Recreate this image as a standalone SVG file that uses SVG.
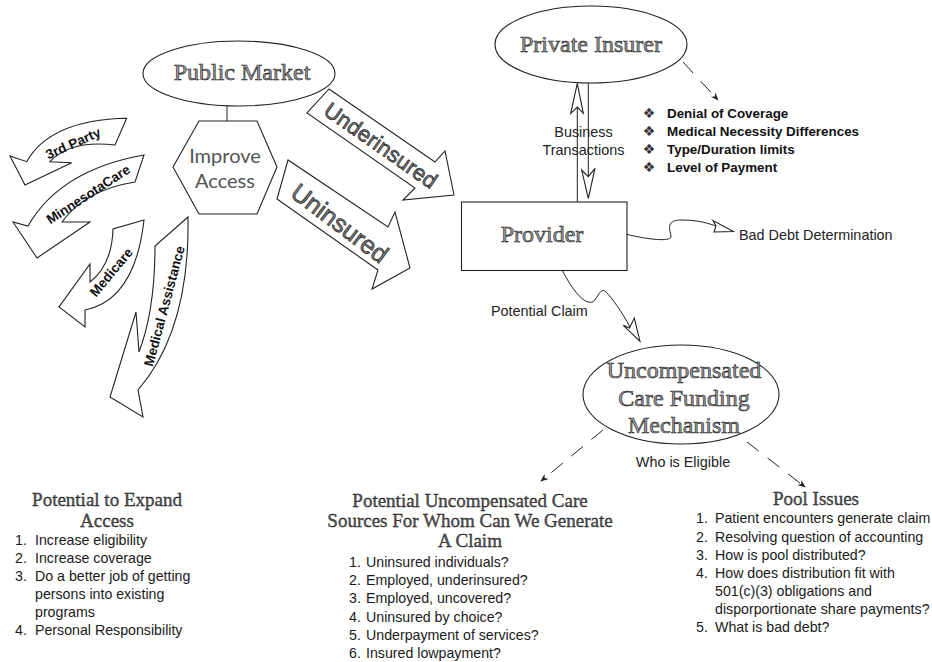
<svg xmlns="http://www.w3.org/2000/svg" width="932" height="662" viewBox="0 0 932 662">
<defs>
<style>
.shape{fill:#fff;stroke:#222;stroke-width:1.1;stroke-linejoin:miter}
.line{fill:none;stroke:#222;stroke-width:1}
.dash{fill:none;stroke:#222;stroke-width:1;stroke-dasharray:15 11}
.title{font-family:"Liberation Serif","DejaVu Serif",serif;font-size:24px;fill:#9a9a9a;stroke:#1a1a1a;stroke-width:0.6;text-anchor:middle}
.head{font-family:"Liberation Serif","DejaVu Serif",serif;font-size:19px;fill:#555;stroke:#111;stroke-width:0.35;text-anchor:middle}
.big{font-family:"Liberation Sans",Arial,sans-serif;fill:#777;stroke:#111;stroke-width:0.6;text-anchor:middle}
.arc{font-family:"Liberation Sans",Arial,sans-serif;font-size:13.5px;font-weight:bold;fill:#111;text-anchor:middle}
.lbl{font-family:"Liberation Sans",Arial,sans-serif;font-size:14.4px;fill:#222}
.bul{font-family:"Liberation Sans",Arial,sans-serif;font-size:13.4px;font-weight:bold;fill:#111}
.list{font-family:"Liberation Sans",Arial,sans-serif;font-size:14.2px;fill:#1a1a1a}
.star{font-family:"DejaVu Sans",sans-serif;font-size:14px;fill:#333;text-anchor:middle}
</style>
<marker id="dh" viewBox="0 0 10 10" refX="9" refY="5" markerWidth="8" markerHeight="8" orient="auto" markerUnits="userSpaceOnUse">
<path d="M0,1 L10,5 L0,9 L3,5 Z" fill="#222"/>
</marker>
</defs>
<rect width="932" height="662" fill="#fff"/>

<g id="connectors">
<line class="line" x1="227" y1="106" x2="227" y2="121"/>
<line class="line" x1="577.3" y1="107" x2="577.3" y2="202"/>
<path class="shape" d="M577.3,83.3 L583.3,113.3 L577.3,107 L570.7,113.3 Z"/>
<line class="line" x1="588.3" y1="83" x2="588.3" y2="177"/>
<path class="shape" d="M588.3,198.3 L581.7,170 L588.3,176.7 L595,168.3 Z"/>
<path class="line" d="M626.7,234.3 C650,240 672,242 671,236 C669,228 667,220 681,220 C695,220 705,222 716,226"/>
<path class="shape" d="M733.3,231.5 L713,220.5 L716,226 L714,232 Z"/>
<path class="line" d="M562,270 C575,295 588,308 595,300 C600,292 602,288 606,292 C612,298 622,312 630,327"/>
<path class="shape" d="M640,341.3 L623.3,325.3 L629.5,328 L634.3,318 Z"/>
<line class="dash" x1="683" y1="62" x2="718" y2="100" marker-end="url(#dh)"/>
<line class="dash" x1="603" y1="430" x2="541" y2="481" marker-end="url(#dh)"/>
<line class="dash" x1="747" y1="442" x2="805" y2="487" marker-end="url(#dh)"/>
</g>

<g id="public-market">
<ellipse class="shape" cx="239" cy="73.5" rx="96" ry="32.5"/>
<text class="title" x="242" y="80">Public Market</text>
</g>

<g id="improve-access">
<polygon class="shape" points="199,121 257,121 277,167 257,214 199,214 173,167"/>
<text x="225" y="163" font-family="Lato,'Liberation Sans',sans-serif" font-size="20" fill="#555" text-anchor="middle">Improve</text>
<text x="225" y="188" font-family="Lato,'Liberation Sans',sans-serif" font-size="20" fill="#555" text-anchor="middle">Access</text>
</g>

<g id="underinsured">
<polygon class="shape" points="329,89 307,113 415,188 403,200 454,195 445,151 435,162"/>
<text class="big" font-size="22" transform="translate(381,145) rotate(35)" y="8">Underinsured</text>
</g>

<g id="uninsured">
<polygon class="shape" points="288,160 277,199 378,270 372,289 410,268 395,212 388,227"/>
<text class="big" font-size="25" transform="translate(340,223) rotate(37)" y="9">Uninsured</text>
</g>

<g id="third-party">
<path class="shape" d="M126.7,118.3 L115,145 Q70,140 50,161.7 L71.7,162.7 L25,185 L10,156 L26.7,161.7 Q50,120 126.7,118.3 Z"/>
<text class="arc" transform="translate(73,143) rotate(-24)" y="5">3rd Party</text>
</g>

<g id="minnesotacare">
<path class="shape" d="M144,155 L135,182 Q85,190 62,222 L90,222 L37,258 L13,222 L28,226 Q60,170 144,155 Z"/>
<text class="arc" transform="translate(88,194) rotate(-33)" y="5">MinnesotaCare</text>
</g>

<g id="medicare">
<path class="shape" d="M144,220 L113,229 Q112,265 90,282 L90,264 L59,307 L85,327 L85,310 Q135,300 144,220 Z"/>
<text class="arc" transform="translate(111,272) rotate(-50)" y="5">Medicare</text>
</g>

<g id="medical-assistance">
<path class="shape" d="M188,217 L155,246 Q155,310 139,352 L136,312 L110,397 L143,417 L138,390 Q190,330 188,217 Z"/>
<text class="arc" transform="translate(164,306) rotate(-75)" y="5">Medical Assistance</text>
</g>

<g id="private-insurer">
<ellipse class="shape" cx="591" cy="44.5" rx="96" ry="38.5"/>
<text class="title" x="591" y="52">Private Insurer</text>
</g>

<g id="business-label">
<text class="lbl" x="583.5" y="137" font-size="13.4" fill="#444" text-anchor="middle">Business</text>
<text class="lbl" x="583.5" y="155" font-size="13.4" fill="#444" text-anchor="middle">Transactions</text>
</g>

<g id="insurer-issues">
<text class="star" x="649" y="118">❖</text>
<text class="star" x="649" y="136">❖</text>
<text class="star" x="649" y="154">❖</text>
<text class="star" x="649" y="172">❖</text>
<text class="bul" x="667" y="118">Denial of Coverage</text>
<text class="bul" x="667" y="136">Medical Necessity Differences</text>
<text class="bul" x="667" y="154">Type/Duration limits</text>
<text class="bul" x="667" y="172">Level of Payment</text>
</g>

<g id="provider">
<rect class="shape" x="461.5" y="202" width="165.5" height="68.5"/>
<text class="title" x="542" y="242">Provider</text>
</g>

<g id="bad-debt">
<text class="lbl" x="739" y="240">Bad Debt Determination</text>
</g>

<g id="potential-claim">
<text class="lbl" x="491" y="316">Potential Claim</text>
</g>

<g id="uncompensated">
<ellipse class="shape" cx="681" cy="394.5" rx="98" ry="49.5"/>
<text class="title" x="684" y="378">Uncompensated</text>
<text class="title" x="684" y="406">Care Funding</text>
<text class="title" x="684" y="433">Mechanism</text>
</g>

<g id="who-eligible">
<text class="lbl" x="683" y="467" text-anchor="middle">Who is Eligible</text>
</g>

<g id="expand-access">
<text class="head" x="107" y="506">Potential to Expand</text>
<text class="head" x="107" y="527">Access</text>
<g class="list">
<text x="15" y="545">1.</text><text x="35" y="545">Increase eligibility</text>
<text x="15" y="563">2.</text><text x="35" y="563">Increase coverage</text>
<text x="15" y="581">3.</text><text x="35" y="581">Do a better job of getting</text>
<text x="35" y="599">persons into existing</text>
<text x="35" y="617">programs</text>
<text x="15" y="635">4.</text><text x="35" y="635">Personal Responsibility</text>
</g>
</g>

<g id="uncompensated-sources">
<text class="head" x="470" y="506.7">Potential Uncompensated Care</text>
<text class="head" x="470" y="526.7">Sources For Whom Can We Generate</text>
<text class="head" x="470" y="546.7">A Claim</text>
<g class="list">
<text x="349" y="566.7">1.</text><text x="366" y="566.7">Uninsured individuals?</text>
<text x="349" y="585">2.</text><text x="366" y="585">Employed, underinsured?</text>
<text x="349" y="603.3">3.</text><text x="366" y="603.3">Employed, uncovered?</text>
<text x="349" y="621.7">4.</text><text x="366" y="621.7">Uninsured by choice?</text>
<text x="349" y="640">5.</text><text x="366" y="640">Underpayment of services?</text>
<text x="349" y="658.3">6.</text><text x="366" y="658.3">Insured lowpayment?</text>
</g>
</g>

<g id="pool-issues">
<text class="head" x="816" y="505">Pool Issues</text>
<g class="list">
<text x="696" y="523">1.</text><text x="715" y="523">Patient encounters generate claim</text>
<text x="696" y="541.5">2.</text><text x="715" y="541.5">Resolving question of accounting</text>
<text x="696" y="560">3.</text><text x="715" y="560">How is pool distributed?</text>
<text x="696" y="578">4.</text><text x="715" y="578">How does distribution fit with</text>
<text x="715" y="596">501(c)(3) obligations and</text>
<text x="715" y="614">disporportionate share payments?</text>
<text x="696" y="632">5.</text><text x="715" y="632">What is bad debt?</text>
</g>
</g>
</svg>
